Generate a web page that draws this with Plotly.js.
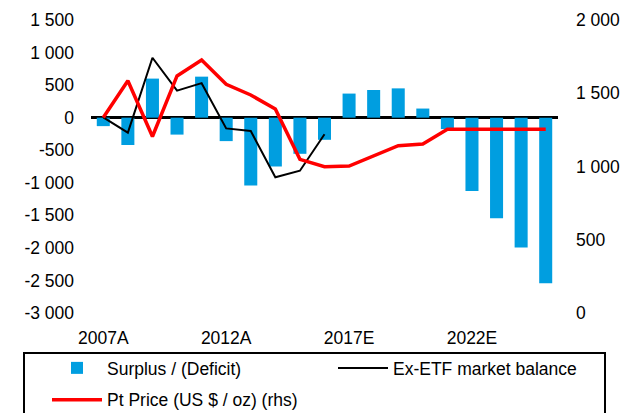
<!DOCTYPE html>
<html>
<head>
<meta charset="utf-8">
<script src="https://cdn.plot.ly/plotly-3.0.1.min.js"></script>
<style>html,body{margin:0;padding:0;background:#fff;}#chart{width:636px;height:413px;}</style>
</head>
<body>
<div id="chart"></div>
<script>
const years = ['2007A','2008A','2009A','2010A','2011A','2012A','2013A','2014A','2015A','2016A','2017E','2018E','2019E','2020E','2021E','2022E','2023E','2024E','2025E'];
const surplus = [-130, -420, 600, -260, 630, -360, -1040, -750, -555, -340, 370, 425, 450, 140, -175, -1125, -1545, -1995, -2545];
const exEtfYears = ['2007A','2008A','2009A','2010A','2011A','2012A','2013A','2014A','2015A','2016A'];
const exEtf = [5, -230, 920, 415, 530, -165, -205, -915, -815, -255];
const ptPrice = [1335, 1585, 1205, 1618, 1727, 1561, 1488, 1392, 1049, 999, 1003, 1072, 1142, 1154, 1254, 1254, 1254, 1254, 1254];
const xTickVals = ['2007A','2012A','2017E','2022E'];
const xTickText = ['2007A','2012A','2017E','2022E'];
const leftTickVals = [1500, 1000, 500, 0, -500, -1000, -1500, -2000, -2500, -3000];
const leftTickText = ['1 500','1 000','500','0','-500','-1 000','-1 500','-2 000','-2 500','-3 000'];
const rightTickVals = [2000, 1500, 1000, 500, 0];
const rightTickText = ['2 000','1 500','1 000','500','0'];

const FONT = 'Liberation Sans, Arial, sans-serif';
const FS = 17.5;

const traces = [
  {type:'bar', x: years, y: surplus, name:'Surplus / (Deficit)', marker:{color:'#009ee0'}, yaxis:'y', legend:'legend', legendgroup:'a'},
  {type:'scatter', mode:'lines', x: exEtfYears, y: exEtf, name:'Ex-ETF market balance', line:{color:'#000000', width:2}, yaxis:'y', legend:'legend2', legendgroup:'b'},
  {type:'scatter', mode:'lines', x: years, y: ptPrice, name:'Pt Price (US $ / oz) (rhs)', line:{color:'#ff0000', width:3.5}, yaxis:'y2', legend:'legend', legendgroup:'c'}
];

const legendBase = {orientation:'v', xanchor:'left', yanchor:'top', itemwidth:50,
  font:{family:FONT, size:FS, color:'#000'}, bgcolor:'rgba(0,0,0,0)', borderwidth:0,
  traceorder:'grouped', tracegroupgap:6};

const layout = {
  width:636, height:413,
  margin:{l:91, r:78, t:20, b:100, autoexpand:false},
  paper_bgcolor:'#ffffff', plot_bgcolor:'#ffffff',
  font:{family:FONT, size:FS, color:'#000000'},
  bargap:0.47,
  showlegend:true,
  legend:Object.assign({}, legendBase, {x:(47-91)/467, y:(313-350)/293}),
  legend2:Object.assign({}, legendBase, {x:(333-91)/467, y:(313-350)/293}),
  xaxis:{type:'category', range:[-0.5, 18.5], tickmode:'array', tickvals:xTickVals, ticktext:xTickText,
         showgrid:false, showline:false, zeroline:false, ticks:'', ticklabelstandoff:12, tickfont:{family:FONT, size:FS}},
  yaxis:{range:[-3000, 1500], tickmode:'array', tickvals:leftTickVals, ticktext:leftTickText,
         showgrid:false, showline:false, zeroline:true, zerolinecolor:'#000', zerolinewidth:2.5,
         ticks:'', ticklabelstandoff:16, tickfont:{family:FONT, size:FS}},
  yaxis2:{range:[0, 2000], overlaying:'y', side:'right', tickmode:'array', tickvals:rightTickVals, ticktext:rightTickText,
          showgrid:false, showline:false, zeroline:false, ticks:'', ticklabelstandoff:17, tickfont:{family:FONT, size:FS}},
  shapes:[{type:'rect', xref:'paper', yref:'paper', x0:(24-91)/467, x1:(605-91)/467, y0:-0.5, y1:(313-353)/293,
           line:{color:'#000', width:2}, fillcolor:'rgba(0,0,0,0)', layer:'above'}]
};

Plotly.newPlot('chart', traces, layout, {displayModeBar:false, staticPlot:true});
</script>
</body>
</html>
